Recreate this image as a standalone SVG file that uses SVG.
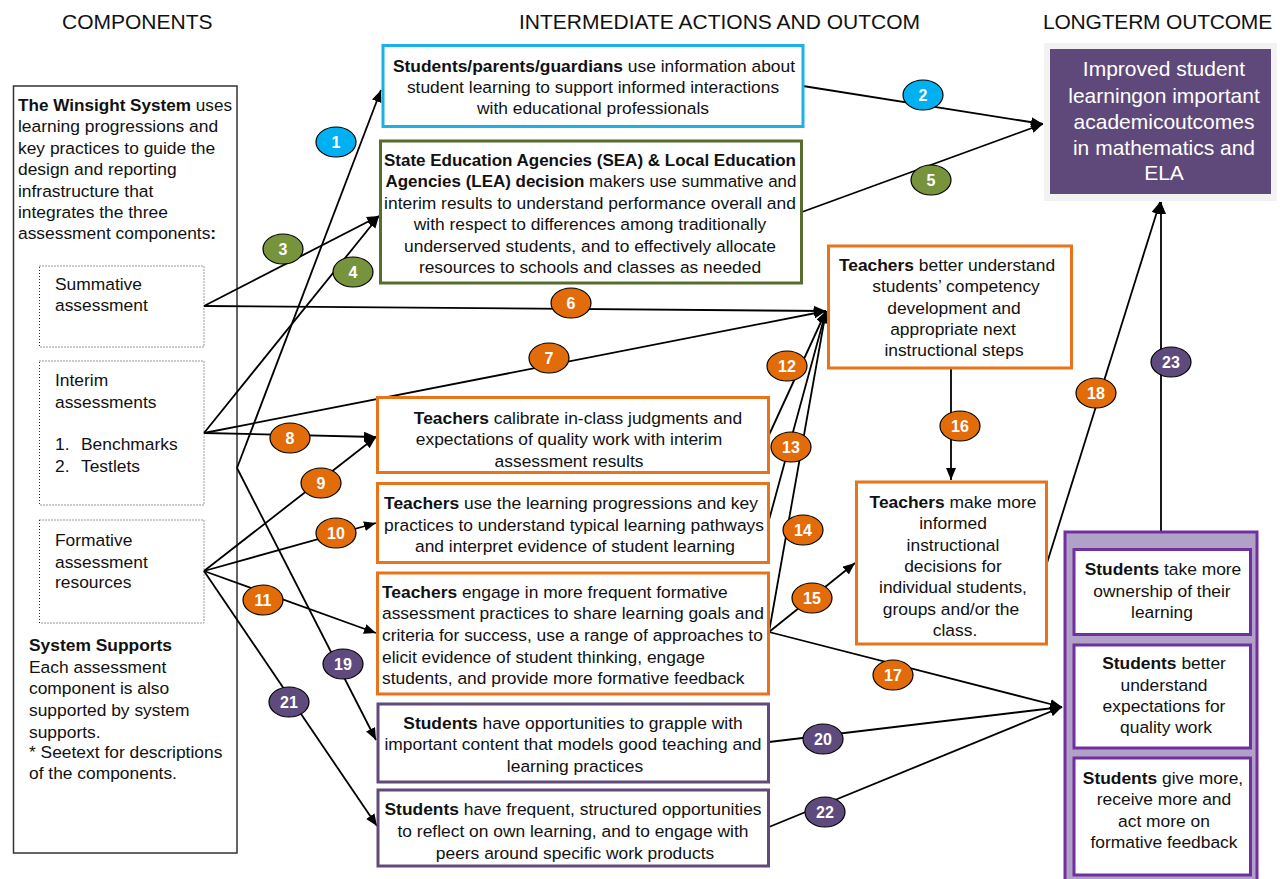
<svg xmlns="http://www.w3.org/2000/svg" width="1280" height="879" viewBox="0 0 1280 879">
<defs>
<style>
text{font-family:"Liberation Sans",Arial,Helvetica,sans-serif;fill:#111;}
.t{font-size:17.4px;}
.c{text-anchor:middle;}
.b{font-weight:bold;}
.h{font-size:21px;fill:#111;}
.box{fill:#fff;stroke-width:3;}
.blue{stroke:#1BB1E7;}
.green{stroke:#566D2E;}
.orange{stroke:#E8731A;}
.purple{stroke:#604A7B;}
.dot{fill:none;stroke:#333;stroke-width:1;stroke-dasharray:1 2;}
.conn{fill:none;stroke:#000;stroke-width:1.8;}
.arr{marker-end:url(#ah);}
.badge ellipse{stroke:#000;stroke-width:1.2;}
.badge text{fill:#fff;font-weight:bold;font-size:16px;text-anchor:middle;}
.bb{fill:#00B0F0;}
.bg{fill:#77933C;}
.bo{fill:#E36C0A;}
.bp{fill:#5F4A7D;}
.wt{fill:#fff;font-size:21px;text-anchor:middle;}
.ibox{fill:#fff;stroke:#7030A0;stroke-width:3;}
</style>
<marker id="ah" markerUnits="userSpaceOnUse" markerWidth="13" markerHeight="11" refX="12" refY="5" orient="auto">
<path d="M0,0 L12,5 L0,10 z" fill="#000"/>
</marker>
<clipPath id="hclip"><rect x="0" y="0" width="920" height="60"/></clipPath>
</defs>

<g id="headers">
<text class="h" x="62" y="29">COMPONENTS</text>
<text class="h" x="519" y="29" clip-path="url(#hclip)">INTERMEDIATE ACTIONS AND OUTCOM</text>
<text class="h" x="1043" y="29" letter-spacing="-0.2">LONGTERM OUTCOME</text>
</g>

<g id="components">
<rect x="13.5" y="86" width="223.5" height="767" fill="#fff" stroke="#333" stroke-width="1.5"/>
<text class="t" x="18" y="111" textLength="214" lengthAdjust="spacingAndGlyphs"><tspan class="b">The Winsight System</tspan> uses</text>
<text class="t" x="18" y="132">learning progressions and</text>
<text class="t" x="18" y="154">key practices to guide the</text>
<text class="t" x="18" y="175">design and reporting</text>
<text class="t" x="18" y="197">infrastructure that</text>
<text class="t" x="18" y="218">integrates the three</text>
<text class="t" x="18" y="239">assessment components<tspan class="b">:</tspan></text>
<g id="summative">
<rect class="dot" x="39.5" y="266" width="164.5" height="81"/>
<text class="t" x="55" y="290">Summative</text>
<text class="t" x="55" y="311">assessment</text>
</g>
<g id="interim">
<rect class="dot" x="39.5" y="361" width="164.5" height="144"/>
<text class="t" x="55" y="386">Interim</text>
<text class="t" x="55" y="408">assessments</text>
<text class="t" x="55" y="450">1.</text><text class="t" x="81" y="450">Benchmarks</text>
<text class="t" x="55" y="472">2.</text><text class="t" x="81" y="472">Testlets</text>
</g>
<g id="formative">
<rect class="dot" x="39.5" y="520" width="164.5" height="103"/>
<text class="t" x="55" y="546">Formative</text>
<text class="t" x="55" y="568">assessment</text>
<text class="t" x="55" y="588">resources</text>
</g>
<text class="t b" x="29" y="651">System Supports</text>
<text class="t" x="29" y="673">Each assessment</text>
<text class="t" x="29" y="694">component is also</text>
<text class="t" x="29" y="716">supported by system</text>
<text class="t" x="29" y="738">supports.</text>
<text class="t" x="29" y="758">* Seetext for descriptions</text>
<text class="t" x="29" y="779">of the components.</text>
</g>

<g id="connectors">
<path class="conn arr" d="M237,468 L381,90"/>
<path class="conn arr" d="M803,86 L1043,124"/>
<path class="conn arr" d="M204,306 L379,216"/>
<path class="conn arr" d="M204,433 L379,216"/>
<path class="conn arr" d="M802,212 L1043,124"/>
<path class="conn arr" d="M204,306 L826,311"/>
<path class="conn arr" d="M204,433 L826,311"/>
<path class="conn arr" d="M204,433 L376,437"/>
<path class="conn arr" d="M204,571 L376,437"/>
<path class="conn arr" d="M204,571 L376,523"/>
<path class="conn arr" d="M204,571 L376,633"/>
<path class="conn arr" d="M769,435 L826,311"/>
<path class="conn arr" d="M769,520 L826,311"/>
<path class="conn arr" d="M769,632 L826,311"/>
<path class="conn arr" d="M769,632 L855,563"/>
<path class="conn arr" d="M951,368 L951,480"/>
<path class="conn arr" d="M769,632 L1062,707"/>
<path class="conn arr" d="M1047,563 L1160,202"/>
<path class="conn arr" d="M237,468 L376,740"/>
<path class="conn arr" d="M769,742 L1062,707"/>
<path class="conn arr" d="M204,571 L377,826"/>
<path class="conn arr" d="M769,827 L1062,707"/>
<path class="conn arr" d="M1161,531 L1161,202"/>
</g>

<g id="n-parents">
<rect class="box blue" x="383" y="45.5" width="420" height="81"/>
<text class="t c" x="594" y="72"><tspan class="b">Students/parents/guardians</tspan> use information about</text>
<text class="t c" x="593" y="93">student learning to support informed interactions</text>
<text class="t c" x="593" y="114">with educational professionals</text>
</g>

<g id="n-sea">
<rect class="box green" x="380.5" y="141" width="421" height="142"/>
<text class="t c b" x="590" y="166" textLength="412" lengthAdjust="spacingAndGlyphs">State Education Agencies (SEA) &amp; Local Education</text>
<text class="t c" x="591" y="187" textLength="411" lengthAdjust="spacingAndGlyphs"><tspan class="b">Agencies (LEA) decision</tspan> makers use summative and</text>
<text class="t c" x="590" y="209">interim results to understand performance overall and</text>
<text class="t c" x="590" y="230">with respect to differences among traditionally</text>
<text class="t c" x="590" y="252">underserved students, and to effectively allocate</text>
<text class="t c" x="590" y="273">resources to schools and classes as needed</text>
</g>

<g id="n-calibrate">
<rect class="box orange" x="377.5" y="397.5" width="391" height="75"/>
<text class="t c" x="578" y="424"><tspan class="b">Teachers</tspan> calibrate in-class judgments and</text>
<text class="t c" x="569" y="445">expectations of quality work with interim</text>
<text class="t c" x="569" y="467">assessment results</text>
</g>

<g id="n-progressions">
<rect class="box orange" x="377.5" y="483.5" width="391" height="79"/>
<text class="t c" x="571" y="509"><tspan class="b">Teachers</tspan> use the learning progressions and key</text>
<text class="t c" x="574" y="531">practices to understand typical learning pathways</text>
<text class="t c" x="575" y="552">and interpret evidence of student learning</text>
</g>

<g id="n-engage">
<rect class="box orange" x="377.5" y="573" width="391" height="121"/>
<text class="t" x="382" y="598"><tspan class="b">Teachers</tspan> engage in more frequent formative</text>
<text class="t" x="382" y="619">assessment practices to share learning goals and</text>
<text class="t" x="382" y="641">criteria for success, use a range of approaches to</text>
<text class="t" x="382" y="663">elicit evidence of student thinking, engage</text>
<text class="t" x="382" y="684">students, and provide more formative feedback</text>
</g>

<g id="n-grapple">
<rect class="box purple" x="378" y="704" width="390.5" height="78"/>
<text class="t c" x="573" y="729"><tspan class="b">Students</tspan> have opportunities to grapple with</text>
<text class="t c" x="573" y="750">important content that models good teaching and</text>
<text class="t c" x="575" y="772">learning practices</text>
</g>

<g id="n-reflect">
<rect class="box purple" x="378" y="790" width="390.5" height="76"/>
<text class="t c" x="573" y="815"><tspan class="b">Students</tspan> have frequent, structured opportunities</text>
<text class="t c" x="573" y="837">to reflect on own learning, and to engage with</text>
<text class="t c" x="575" y="859">peers around specific work products</text>
</g>

<g id="n-understand">
<rect class="box orange" x="828.5" y="246" width="243" height="122"/>
<text class="t c" x="947" y="271"><tspan class="b">Teachers</tspan>  better understand</text>
<text class="t c" x="956" y="292">students’ competency</text>
<text class="t c" x="954" y="314">development and</text>
<text class="t c" x="953" y="335">appropriate next</text>
<text class="t c" x="954" y="356">instructional steps</text>
</g>

<g id="n-decisions">
<rect class="box orange" x="856.5" y="482" width="190" height="162"/>
<text class="t c" x="953" y="508"><tspan class="b">Teachers</tspan> make more</text>
<text class="t c" x="953" y="529">informed</text>
<text class="t c" x="953" y="551">instructional</text>
<text class="t c" x="953" y="572">decisions for</text>
<text class="t c" x="953" y="593">individual students,</text>
<text class="t c" x="951" y="615">groups and/or the</text>
<text class="t c" x="955" y="636">class.</text>
</g>

<g id="n-longterm">
<rect x="1044" y="43" width="233" height="158" fill="#F2F2F2"/>
<rect x="1050" y="49" width="221" height="145" fill="#5F497A"/>
<text class="wt" x="1164" y="76">Improved student</text>
<text class="wt" x="1164" y="103">learningon important</text>
<text class="wt" x="1164" y="129">academicoutcomes</text>
<text class="wt" x="1164" y="155">in mathematics and</text>
<text class="wt" x="1164" y="180">ELA</text>
</g>

<g id="n-students-outcomes">
<rect x="1065" y="532" width="192" height="352" fill="#B2A1C7" stroke="#7030A0" stroke-width="3"/>
<g id="n-ownership">
<rect class="ibox" x="1074" y="549.5" width="176.5" height="85"/>
<text class="t c" x="1163" y="575"><tspan class="b">Students</tspan> take more</text>
<text class="t c" x="1162" y="597">ownership of their</text>
<text class="t c" x="1162" y="618">learning</text>
</g>
<g id="n-expectations">
<rect class="ibox" x="1074" y="645" width="176.5" height="103"/>
<text class="t c" x="1164" y="669"><tspan class="b">Students</tspan> better</text>
<text class="t c" x="1164" y="691">understand</text>
<text class="t c" x="1164" y="712">expectations for</text>
<text class="t c" x="1166" y="733">quality work</text>
</g>
<g id="n-feedback">
<rect class="ibox" x="1074" y="758" width="176.5" height="117"/>
<text class="t c" x="1163" y="784"><tspan class="b">Students</tspan> give more,</text>
<text class="t c" x="1164" y="805">receive more and</text>
<text class="t c" x="1164" y="827">act more on</text>
<text class="t c" x="1164" y="848">formative feedback</text>
</g>
</g>

<g id="connector-labels">
<g class="badge"><ellipse class="bb" cx="336" cy="142" rx="20" ry="15"/><text x="336" y="148">1</text></g>
<g class="badge"><ellipse class="bb" cx="923" cy="95" rx="20" ry="15"/><text x="923" y="101">2</text></g>
<g class="badge"><ellipse class="bg" cx="283" cy="249" rx="20" ry="15"/><text x="283" y="255">3</text></g>
<g class="badge"><ellipse class="bg" cx="353" cy="272" rx="20" ry="15"/><text x="353" y="278">4</text></g>
<g class="badge"><ellipse class="bg" cx="931" cy="180" rx="20" ry="15"/><text x="931" y="186">5</text></g>
<g class="badge"><ellipse class="bo" cx="571" cy="303" rx="20" ry="15"/><text x="571" y="309">6</text></g>
<g class="badge"><ellipse class="bo" cx="549" cy="358" rx="20" ry="15"/><text x="549" y="364">7</text></g>
<g class="badge"><ellipse class="bo" cx="290" cy="438" rx="20" ry="15"/><text x="290" y="444">8</text></g>
<g class="badge"><ellipse class="bo" cx="321" cy="483" rx="20" ry="15"/><text x="321" y="489">9</text></g>
<g class="badge"><ellipse class="bo" cx="336" cy="533" rx="20" ry="15"/><text x="336" y="539">10</text></g>
<g class="badge"><ellipse class="bo" cx="263" cy="600" rx="20" ry="15"/><text x="263" y="606">11</text></g>
<g class="badge"><ellipse class="bo" cx="787" cy="366" rx="20" ry="15"/><text x="787" y="372">12</text></g>
<g class="badge"><ellipse class="bo" cx="791" cy="447" rx="20" ry="15"/><text x="791" y="453">13</text></g>
<g class="badge"><ellipse class="bo" cx="803" cy="530" rx="20" ry="15"/><text x="803" y="536">14</text></g>
<g class="badge"><ellipse class="bo" cx="812" cy="598" rx="20" ry="15"/><text x="812" y="604">15</text></g>
<g class="badge"><ellipse class="bo" cx="960" cy="426" rx="20" ry="15"/><text x="960" y="432">16</text></g>
<g class="badge"><ellipse class="bo" cx="893" cy="675" rx="20" ry="15"/><text x="893" y="681">17</text></g>
<g class="badge"><ellipse class="bo" cx="1096" cy="393" rx="20" ry="15"/><text x="1096" y="399">18</text></g>
<g class="badge"><ellipse class="bp" cx="343" cy="664" rx="20" ry="15"/><text x="343" y="670">19</text></g>
<g class="badge"><ellipse class="bp" cx="823" cy="739" rx="20" ry="15"/><text x="823" y="745">20</text></g>
<g class="badge"><ellipse class="bp" cx="289" cy="702" rx="20" ry="15"/><text x="289" y="708">21</text></g>
<g class="badge"><ellipse class="bp" cx="825" cy="812" rx="20" ry="15"/><text x="825" y="818">22</text></g>
<g class="badge"><ellipse class="bp" cx="1171" cy="362" rx="20" ry="15"/><text x="1171" y="368">23</text></g>
</g>
</svg>
